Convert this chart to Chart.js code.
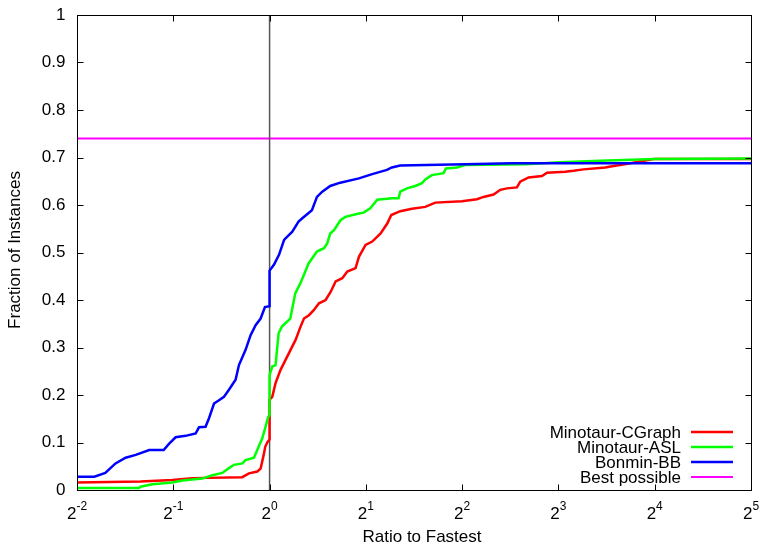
<!DOCTYPE html>
<html>
<head>
<meta charset="utf-8">
<title>Performance profile</title>
<script src="https://cdn.jsdelivr.net/npm/chart.js@4.4.1/dist/chart.umd.min.js"></script>
<style>
  html, body { margin: 0; padding: 0; background: #fff; }
  canvas { display: block; }
</style>
</head>
<body>
<canvas id="myChart" width="760" height="547"></canvas>
<script>
// x = log2(ratio to fastest), y = fraction of instances
var cgraphX = [-2, -1.34, -1.01, -0.803, -0.283, -0.214, -0.128, -0.093, -0.06, -0.045, -0.024, 0, 0, 0.028, 0.062, 0.114, 0.166, 0.218, 0.27, 0.322, 0.357, 0.409, 0.461, 0.513, 0.582, 0.634, 0.686, 0.755, 0.807, 0.893, 0.928, 0.997, 1.066, 1.153, 1.222, 1.264, 1.357, 1.479, 1.617, 1.721, 1.998, 2.154, 2.222, 2.326, 2.396, 2.465, 2.569, 2.603, 2.69, 2.829, 2.881, 3.07, 3.157, 3.26, 3.486, 3.572, 3.642, 3.746, 3.99, 5];
var cgraphY = [0.016, 0.018, 0.021, 0.025, 0.027, 0.035, 0.039, 0.045, 0.075, 0.091, 0.100, 0.106, 0.19, 0.196, 0.225, 0.253, 0.274, 0.295, 0.316, 0.344, 0.361, 0.368, 0.379, 0.393, 0.40, 0.417, 0.439, 0.446, 0.46, 0.467, 0.491, 0.516, 0.523, 0.54, 0.561, 0.579, 0.587, 0.592, 0.596, 0.605, 0.608, 0.612, 0.617, 0.622, 0.632, 0.635, 0.637, 0.649, 0.658, 0.661, 0.668, 0.67, 0.672, 0.675, 0.679, 0.682, 0.684, 0.688, 0.697, 0.697];

var aslX = [-2, -1.356, -1.34, -1.218, -1.01, -0.907, -0.699, -0.595, -0.491, -0.422, -0.37, -0.283, -0.249, -0.162, -0.128, -0.076, -0.042, -0.014, 0, 0, 0.028, 0.062, 0.094, 0.128, 0.215, 0.267, 0.319, 0.357, 0.405, 0.492, 0.565, 0.599, 0.63, 0.669, 0.737, 0.786, 0.928, 0.976, 1.046, 1.118, 1.274, 1.34, 1.357, 1.427, 1.513, 1.583, 1.617, 1.686, 1.807, 1.832, 1.946, 2.03, 2.66, 3.02, 3.43, 4.005, 5];
var aslY = [0.004, 0.004, 0.007, 0.012, 0.016, 0.020, 0.024, 0.031, 0.036, 0.046, 0.053, 0.056, 0.063, 0.068, 0.084, 0.109, 0.133, 0.154, 0.158, 0.242, 0.26, 0.263, 0.33, 0.344, 0.361, 0.414, 0.435, 0.453, 0.477, 0.502, 0.509, 0.519, 0.54, 0.547, 0.568, 0.575, 0.582, 0.584, 0.593, 0.611, 0.614, 0.614, 0.628, 0.635, 0.640, 0.646, 0.654, 0.663, 0.667, 0.677, 0.679, 0.684, 0.686, 0.690, 0.693, 0.697, 0.698];

var bonminX = [-2, -1.82, -1.706, -1.60, -1.495, -1.39, -1.25, -1.10, -1.045, -0.976, -0.872, -0.768, -0.733, -0.665, -0.629, -0.577, -0.525, -0.474, -0.422, -0.353, -0.318, -0.249, -0.197, -0.145, -0.093, -0.048, 0, 0, 0.045, 0.098, 0.15, 0.166, 0.236, 0.301, 0.34, 0.44, 0.492, 0.547, 0.63, 0.734, 0.928, 1.066, 1.219, 1.27, 1.357, 2.03, 2.517, 5];
var bonminY = [0.028, 0.028, 0.036, 0.056, 0.068, 0.074, 0.084, 0.084, 0.097, 0.111, 0.114, 0.119, 0.132, 0.133, 0.151, 0.182, 0.189, 0.196, 0.211, 0.232, 0.263, 0.295, 0.326, 0.347, 0.361, 0.385, 0.387, 0.462, 0.474, 0.495, 0.526, 0.530, 0.544, 0.565, 0.572, 0.589, 0.617, 0.628, 0.640, 0.647, 0.656, 0.665, 0.674, 0.679, 0.683, 0.686, 0.688, 0.688];

var bestPossible = 0.74;

var xTickExp = [-2, -1, 0, 1, 2, 3, 4, 5];
var yTickVals = [0, 0.1, 0.2, 0.3, 0.4, 0.5, 0.6, 0.7, 0.8, 0.9, 1];
var yTickLabels = ['0', '0.1', '0.2', '0.3', '0.4', '0.5', '0.6', '0.7', '0.8', '0.9', '1'];

var FONT = "'Liberation Sans', Arial, Helvetica, sans-serif";

function pts(xs, ys) {
  var out = [];
  for (var i = 0; i < xs.length; i++) out.push({x: xs[i], y: ys[i]});
  return out;
}

// border, inward ticks, tick labels, axis titles and the key
var framePlugin = {
  id: 'frame',
  afterDatasetsDraw: function(chart) {
    var ctx = chart.ctx, a = chart.chartArea;
    var xs = chart.scales.x, ys = chart.scales.y;
    var L = Math.round(a.left) + 0.5, R = Math.round(a.right) + 0.5;
    var T = Math.round(a.top) + 0.5, B = Math.round(a.bottom) + 0.5;
    ctx.save();
    ctx.strokeStyle = '#000';
    ctx.lineWidth = 1;
    ctx.strokeRect(L, T, R - L, B - T);

    ctx.beginPath();
    xTickExp.forEach(function(e) {
      var px = Math.round(xs.getPixelForValue(e)) + 0.5;
      ctx.moveTo(px, B); ctx.lineTo(px, B - 6);
      ctx.moveTo(px, T); ctx.lineTo(px, T + 6);
    });
    yTickVals.forEach(function(v) {
      var py = Math.round(ys.getPixelForValue(v)) + 0.5;
      ctx.moveTo(L, py); ctx.lineTo(L + 6, py);
      ctx.moveTo(R, py); ctx.lineTo(R - 6, py);
    });
    ctx.stroke();

    ctx.fillStyle = '#000';
    ctx.textAlign = 'right';
    ctx.textBaseline = 'middle';
    ctx.font = '17px ' + FONT;
    yTickVals.forEach(function(v, i) {
      ctx.fillText(yTickLabels[i], L - 12, ys.getPixelForValue(v));
    });

    ctx.textAlign = 'left';
    ctx.textBaseline = 'alphabetic';
    xTickExp.forEach(function(e) {
      var px = xs.getPixelForValue(e);
      var sup = String(e);
      ctx.font = '17px ' + FONT;
      var w1 = ctx.measureText('2').width;
      ctx.font = '12px ' + FONT;
      var w2 = ctx.measureText(sup).width;
      var x0 = px - (w1 + w2) / 2;
      ctx.font = '17px ' + FONT;
      ctx.fillText('2', x0, 519);
      ctx.font = '12px ' + FONT;
      ctx.fillText(sup, x0 + w1, 510);
    });

    ctx.font = '17px ' + FONT;
    ctx.textAlign = 'center';
    ctx.fillText('Ratio to Fastest', 422, 542);
    ctx.save();
    ctx.translate(20, 250);
    ctx.rotate(-Math.PI / 2);
    ctx.fillText('Fraction of Instances', 0, 0);
    ctx.restore();

    // key
    ctx.textAlign = 'right';
    ctx.textBaseline = 'middle';
    var rowY = 432;
    chart.data.datasets.forEach(function(ds) {
      if (!ds.label) return;
      ctx.fillStyle = '#000';
      ctx.fillText(ds.label, 681, rowY + 1);
      ctx.strokeStyle = ds.borderColor;
      ctx.lineWidth = ds.borderWidth;
      ctx.beginPath();
      ctx.moveTo(691, rowY); ctx.lineTo(733, rowY);
      ctx.stroke();
      rowY += 15;
    });
    ctx.restore();
  }
};

var ctx = document.getElementById('myChart');
var myChart = new Chart(ctx, {
  type: 'line',
  data: {
    datasets: [
      { label: 'Minotaur-CGraph', data: pts(cgraphX, cgraphY), borderColor: '#ff0000', borderWidth: 2.5, order: 3 },
      { label: 'Minotaur-ASL', data: pts(aslX, aslY), borderColor: '#00ff00', borderWidth: 2.5, order: 2 },
      { label: 'Bonmin-BB', data: pts(bonminX, bonminY), borderColor: '#0000ff', borderWidth: 2.5, order: 1 },
      { label: 'Best possible', data: [{x: -2, y: bestPossible}, {x: 5, y: bestPossible}], borderColor: '#ff00ff', borderWidth: 2, order: 5 },
      { label: '', data: [{x: 0, y: 0}, {x: 0, y: 1}], borderColor: '#555555', borderWidth: 1.5, order: 4 }
    ]
  },
  options: {
    responsive: false,
    animation: false,
    devicePixelRatio: 1,
    layout: { padding: { top: 15, right: 9, left: 0, bottom: 0 } },
    elements: {
      point: { radius: 0, hoverRadius: 0 },
      line: { tension: 0, fill: false }
    },
    plugins: {
      legend: { display: false },
      tooltip: { enabled: false }
    },
    events: [],
    scales: {
      x: {
        type: 'linear', min: -2, max: 5,
        ticks: { display: false },
        grid: { display: false },
        border: { display: false },
        afterFit: function(scale) { scale.height = 57; }
      },
      y: {
        type: 'linear', min: 0, max: 1,
        ticks: { display: false },
        grid: { display: false },
        border: { display: false },
        afterFit: function(scale) { scale.width = 77; }
      }
    }
  },
  plugins: [framePlugin]
});
</script>
</body>
</html>
